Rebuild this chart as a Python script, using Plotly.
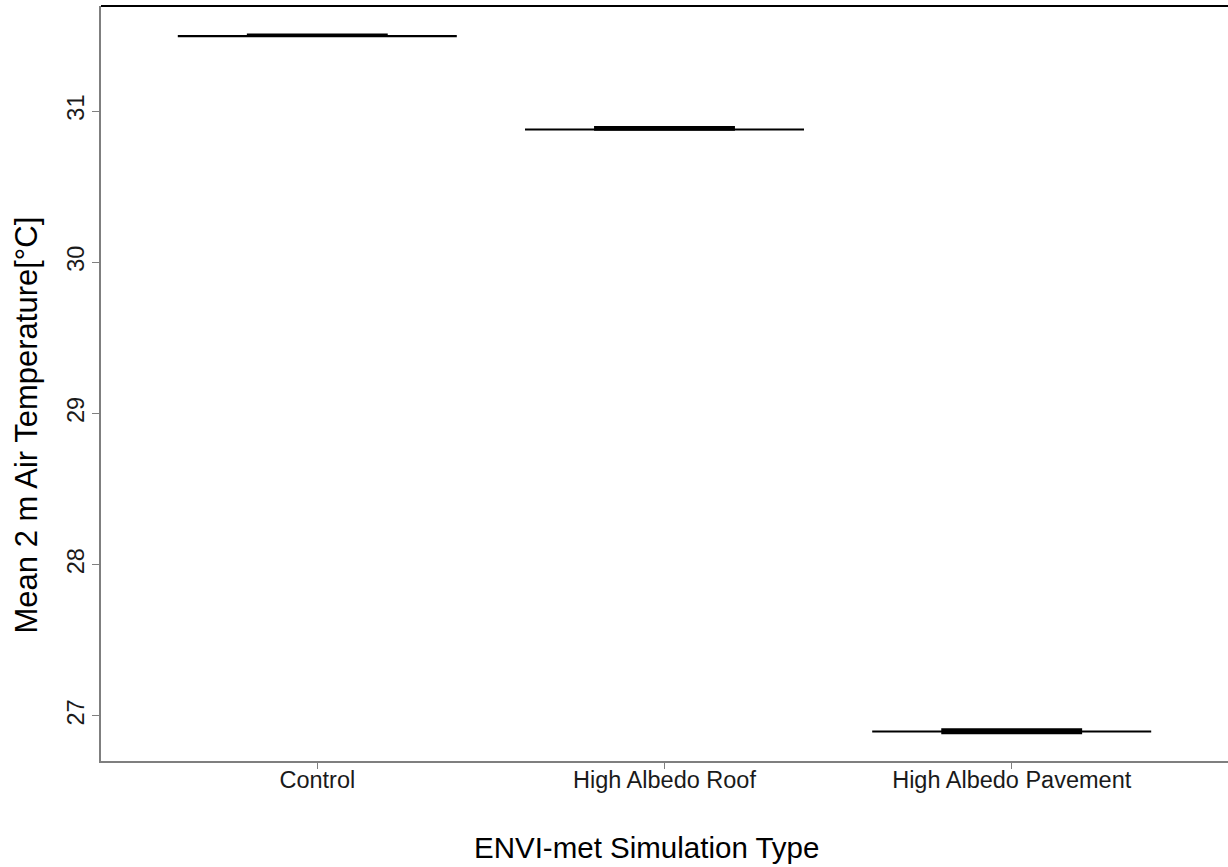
import plotly.graph_objects as go

categories = ["Control", "High Albedo Roof", "High Albedo Pavement"]
q1_vals = [31.496, 30.876, 26.886]
median_vals = [31.500, 30.885, 26.899]
q3_vals = [31.506, 30.894, 26.912]
err_low = [31.4955, 30.8775, 26.8965]
err_high = [31.4965, 30.8785, 26.8975]
y_ticks = [27, 28, 29, 30, 31]

FONT = "Liberation Sans, Arial, sans-serif"

fig = go.Figure()

# error-bar caps (wider than the box)
mid = [(lo + hi) / 2 for lo, hi in zip(err_low, err_high)]
fig.add_trace(go.Scatter(
    x=categories, y=mid, mode="markers",
    marker=dict(size=1, color="rgba(0,0,0,0)"),
    error_y=dict(type="data", symmetric=False,
                 array=[hi - m for hi, m in zip(err_high, mid)],
                 arrayminus=[m - lo for lo, m in zip(err_low, mid)],
                 color="black", thickness=2, width=139.5),
    hoverinfo="skip", showlegend=False,
))

fig.add_trace(go.Box(
    x=categories, q1=q1_vals, median=median_vals, q3=q3_vals,
    lowerfence=q1_vals, upperfence=q3_vals,
    width=0.4, whiskerwidth=0,
    line=dict(color="black", width=2), fillcolor="white",
    boxpoints=False, showlegend=False,
))

fig.update_layout(
    width=1228, height=867,
    margin=dict(l=101, r=0, t=6, b=106),
    plot_bgcolor="white", paper_bgcolor="white",
    font=dict(family=FONT, color="black"),
    boxmode="overlay",
    shapes=[dict(type="line", xref="paper", yref="paper", x0=0, x1=1, y0=1, y1=1,
                 line=dict(color="black", width=2))],
    annotations=[
        dict(text="ENVI-met Simulation Type", xref="paper", yref="paper",
             x=0.484, y=-0.1152, xanchor="center", yanchor="middle", showarrow=False,
             font=dict(size=29.5, color="black", family=FONT)),
        dict(text="Mean 2 m Air Temperature[°C]", xref="paper", yref="paper",
             x=-0.0657, y=0.4457, xanchor="center", yanchor="middle", showarrow=False,
             textangle=-90, font=dict(size=31, color="black", family=FONT)),
    ],
)

fig.update_xaxes(
    categoryorder="array", categoryarray=categories,
    range=[-0.623, 2.623],
    showline=True, linecolor="#7f7f7f", linewidth=2,
    ticks="outside", ticklen=6, tickcolor="#7f7f7f", tickwidth=1,
    ticklabelstandoff=-9,
    tickfont=dict(size=23.5, color="#1a1a1a", family=FONT),
    showgrid=False, zeroline=False,
    automargin=False,
)
fig.update_yaxes(
    range=[26.702, 31.695],
    tickvals=y_ticks, ticktext=[str(v) for v in y_ticks], tickangle=-90,
    showline=True, linecolor="#7f7f7f", linewidth=2,
    ticks="outside", ticklen=7, tickcolor="#7f7f7f", tickwidth=1,
    ticklabelstandoff=-1,
    tickfont=dict(size=23.5, color="#1a1a1a", family=FONT),
    showgrid=False, zeroline=False,
    automargin=False,
)

fig.write_html("out.html")
